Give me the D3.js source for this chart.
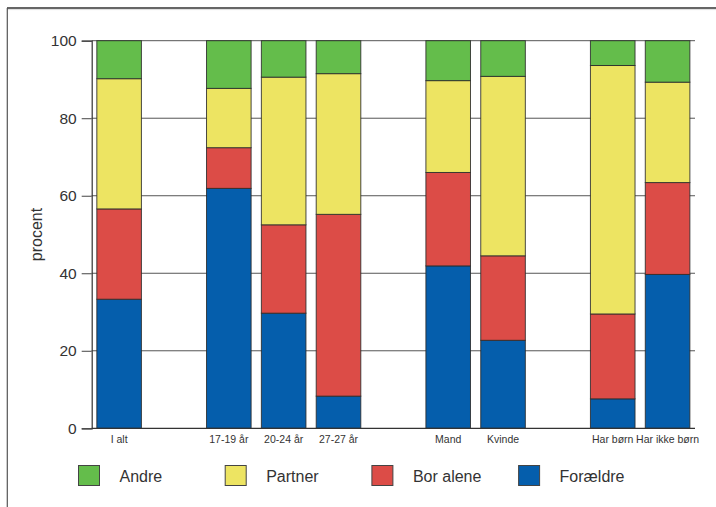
<!DOCTYPE html>
<html>
<head>
<meta charset="utf-8">
<script src="https://cdn.jsdelivr.net/npm/d3@7"></script>
<style>
  html, body { margin: 0; padding: 0; background: #fff; }
  svg { display: block; }
  text { font-family: "Liberation Sans", Arial, Helvetica, sans-serif; fill: #333; }
</style>
</head>
<body>
<svg id="chart" width="716" height="507"></svg>
<script>
// ---- data ----
const groups = [
  ["I alt"],
  ["17-19 år", "20-24 år", "27-27 år"],
  ["Mand", "Kvinde"],
  ["Har børn", "Har ikke børn"]
];
const categories = ["I alt", "17-19 år", "20-24 år", "27-27 år", "Mand", "Kvinde", "Har børn", "Har ikke børn"];
const seriesNames = ["Forældre", "Bor alene", "Partner", "Andre"];
const foraeldre = [33.3, 61.9, 29.7, 8.3, 41.9, 22.7, 7.6, 39.7];
const borAlene  = [23.3, 10.5, 22.8, 46.9, 24.1, 21.8, 21.9, 23.7];
const partner   = [33.6, 15.3, 38.1, 36.3, 23.7, 46.3, 64.1, 25.9];
const andre     = [9.8, 12.3, 9.4, 8.5, 10.3, 9.2, 6.4, 10.7];
const yTicks = [0, 20, 40, 60, 80, 100];
const legendOrder = ["Andre", "Partner", "Bor alene", "Forældre"];
const colors = { "Forældre": "#055eac", "Bor alene": "#dc4c47", "Partner": "#ede462", "Andre": "#64bd4b" };

// ---- build table ----
const valuesBySeries = { "Forældre": foraeldre, "Bor alene": borAlene, "Partner": partner, "Andre": andre };
const table = categories.map((c, i) => {
  const row = { cat: c };
  seriesNames.forEach(s => row[s] = valuesBySeries[s][i]);
  return row;
});

// band domain with gaps between groups
const domain = [];
groups.forEach((g, gi) => {
  if (gi > 0) domain.push("__gap" + gi);
  g.forEach(c => domain.push(c));
});

const svg = d3.select("#chart");

// frame
svg.append("line").attr("x1", 7).attr("x2", 716).attr("y1", 9.6).attr("y2", 9.6)
  .attr("stroke", "#ddd").attr("stroke-width", 1);
svg.append("line").attr("x1", 7).attr("x2", 716).attr("y1", 8).attr("y2", 8)
  .attr("stroke", "#333").attr("stroke-width", 1.4);
svg.append("line").attr("x1", 7.3).attr("x2", 7.3).attr("y1", 8).attr("y2", 507)
  .attr("stroke", "#555").attr("stroke-width", 1.2);

const x0 = 91.7, x1 = 695, yTop = 40.7, yBot = 428.3;
const x = d3.scaleBand().domain(domain).range([x0, x1]).paddingInner(0.187).paddingOuter(0.0935);
const y = d3.scaleLinear().domain([0, 100]).range([yBot, yTop]);

// gridlines
svg.append("g").selectAll("line").data(yTicks.filter(t => t > 0)).join("line")
  .attr("x1", x0).attr("x2", x1)
  .attr("y1", d => y(d)).attr("y2", d => y(d))
  .attr("stroke", "#555").attr("stroke-width", 1);

// stacked bars
const stack = d3.stack().keys(seriesNames);
const stacked = stack(table);
svg.append("g").selectAll("g").data(stacked).join("g")
  .attr("fill", d => colors[d.key])
  .selectAll("rect").data(d => d).join("rect")
  .attr("x", d => x(d.data.cat))
  .attr("width", x.bandwidth())
  .attr("y", d => y(d[1]))
  .attr("height", d => y(d[0]) - y(d[1]))
  .attr("stroke", "#2a2a2a").attr("stroke-width", 1).attr("stroke-opacity", 0.85);

// y axis
const yAxis = d3.axisLeft(y).tickValues(yTicks).tickSize(10).tickPadding(5);
const ga = svg.append("g").attr("transform", `translate(${x0},0)`).call(yAxis);
ga.select(".domain").attr("stroke", "#333").attr("stroke-width", 1.2);
ga.selectAll(".tick line").attr("stroke", "#444");
ga.selectAll(".tick text").attr("font-size", 15.5).attr("fill", "#333")
  .attr("font-family", '"Liberation Sans", Arial, sans-serif');

// x axis
const xAxis = d3.axisBottom(x).tickSize(0).tickPadding(7)
  .tickFormat(d => d.startsWith("__gap") ? "" : d);
const gx = svg.append("g").attr("transform", `translate(0,${yBot})`).call(xAxis);
gx.select(".domain").remove();
gx.selectAll(".tick text").attr("font-size", 10.5).attr("fill", "#333")
  .attr("font-family", '"Liberation Sans", Arial, sans-serif');
svg.append("line").attr("x1", x0).attr("x2", x1).attr("y1", yBot).attr("y2", yBot)
  .attr("stroke", "#333").attr("stroke-width", 1.2);

// y label
svg.append("text")
  .attr("transform", `translate(41.5,${(yTop + yBot) / 2}) rotate(-90)`)
  .attr("text-anchor", "middle")
  .attr("font-size", 16)
  .text("procent");

// legend
const legend = svg.append("g").selectAll("g").data(legendOrder).join("g")
  .attr("transform", (d, i) => `translate(${78.5 + i * 146.7},465.5)`);
legend.append("rect").attr("width", 21).attr("height", 20)
  .attr("fill", d => colors[d]).attr("stroke", "#444").attr("stroke-width", 1);
legend.append("text").attr("x", 41).attr("y", 16.8).attr("font-size", 16).text(d => d);
</script>
</body>
</html>
